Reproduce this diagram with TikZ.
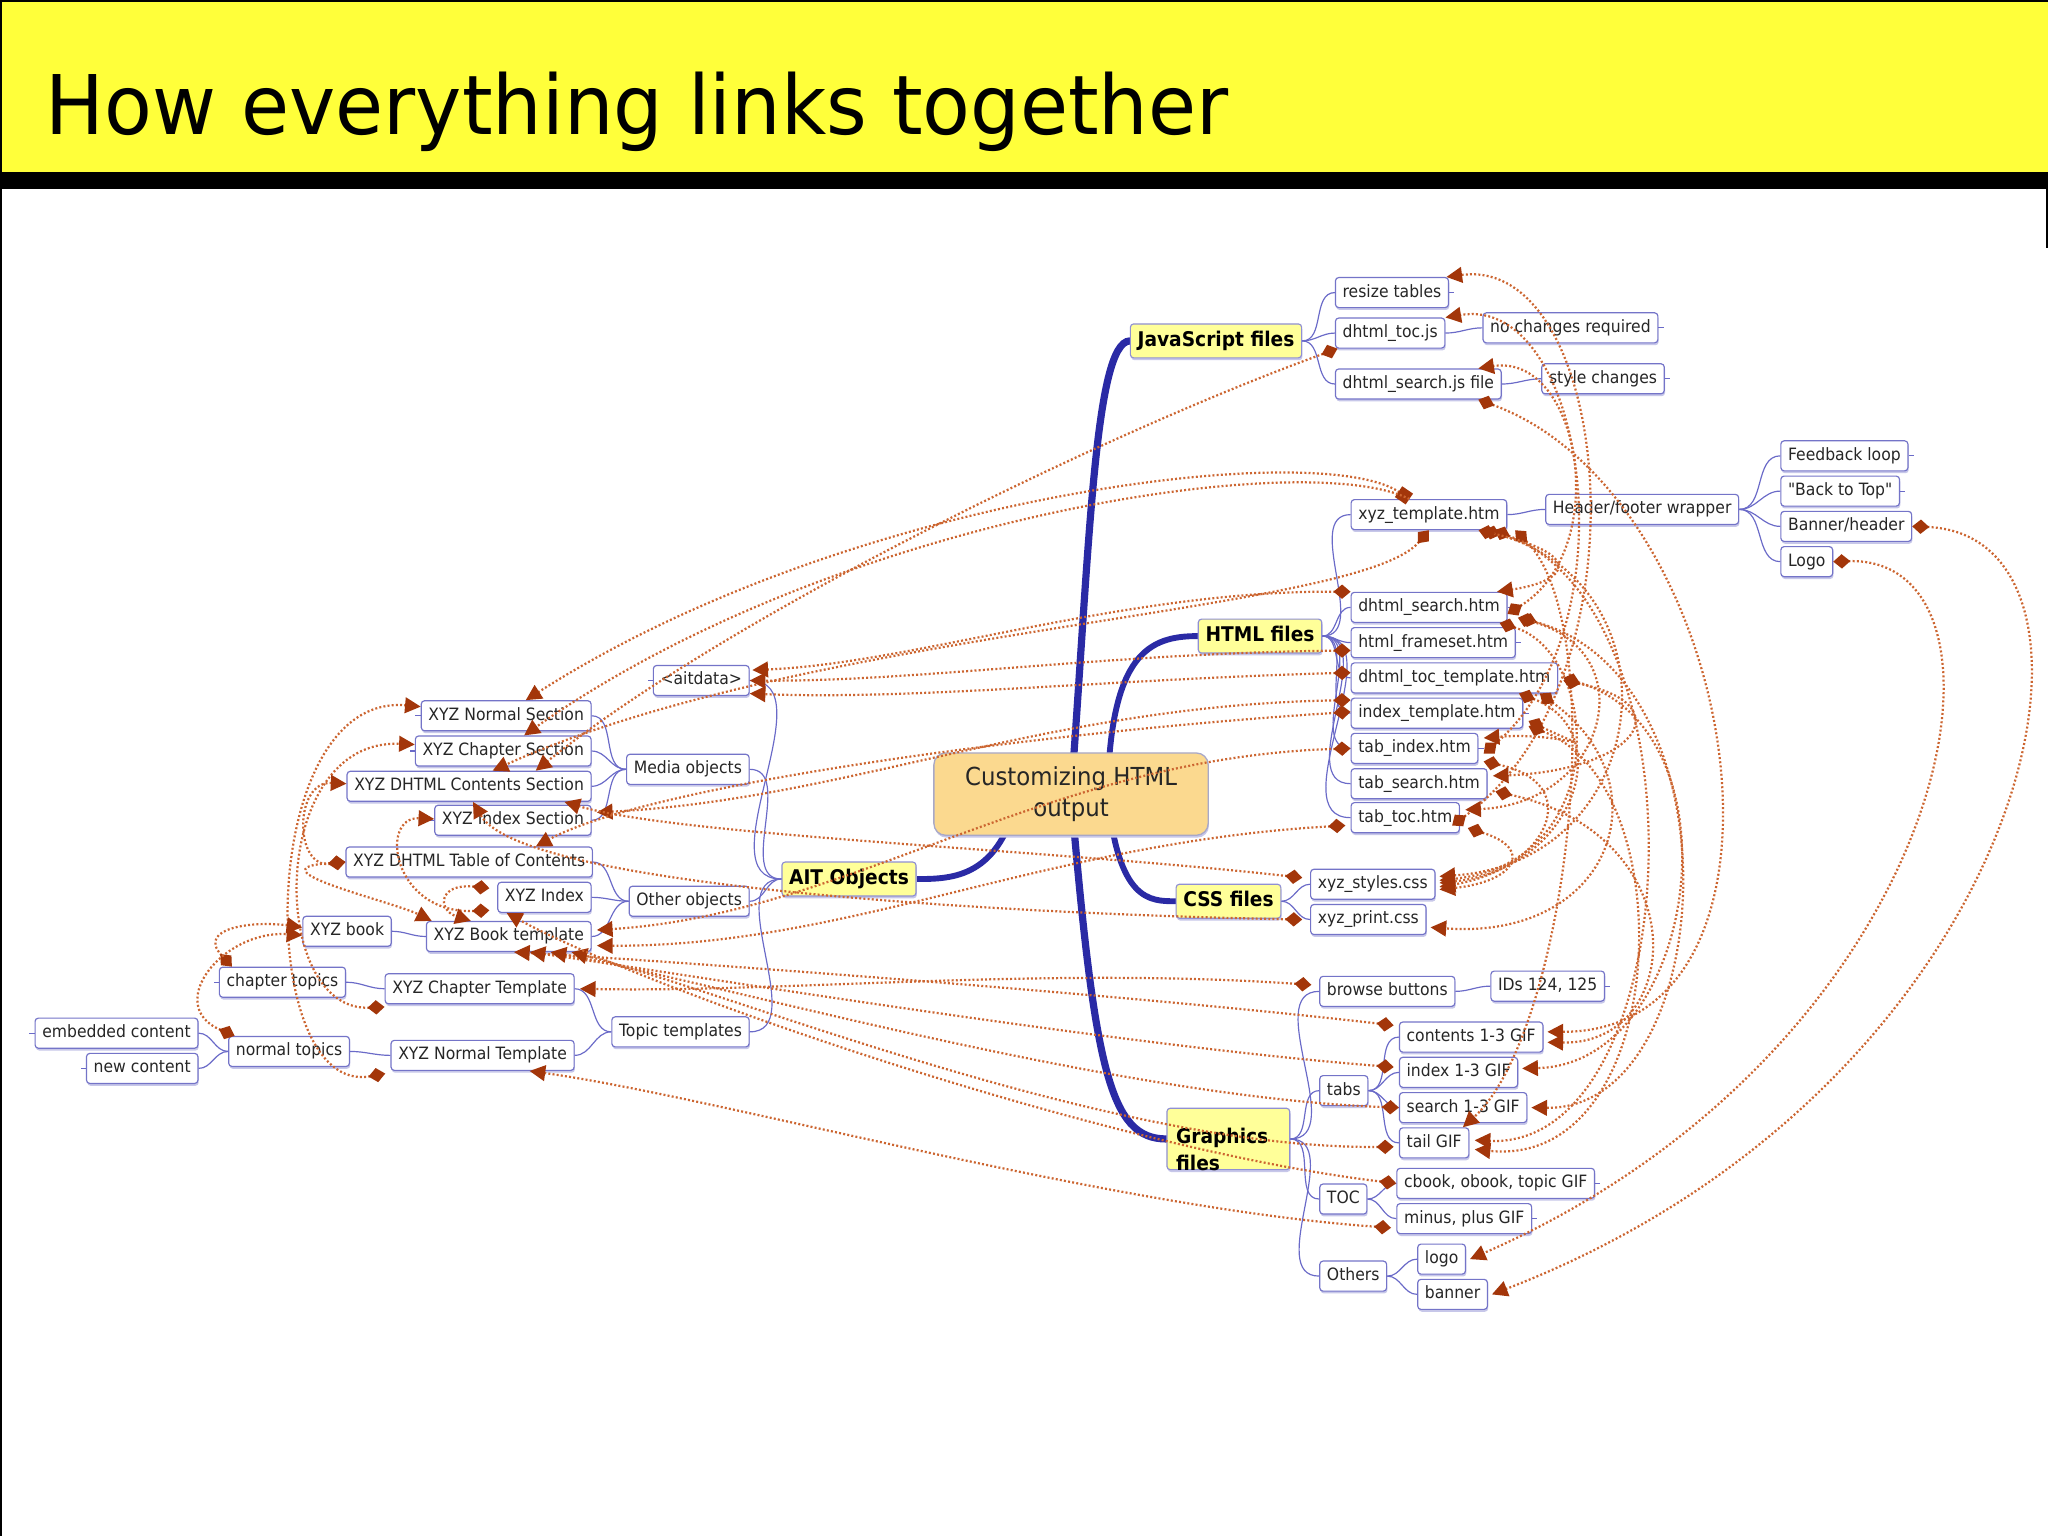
\documentclass[tikz,border=0pt]{standalone}
\usepackage{fontspec}
\setmainfont{DejaVu Sans}
\newfontfamily\nfont[FakeStretch=0.92]{DejaVu Sans}
\newfontfamily\tfont[FakeStretch=0.95]{DejaVu Sans}
\usetikzlibrary{arrows.meta,shadows,backgrounds}
\definecolor{ttlyel}{HTML}{FFFF3A}
\definecolor{leafc}{HTML}{7474C8}
\definecolor{treec}{HTML}{6A6AC8}
\definecolor{thickc}{HTML}{2A2AA5}
\definecolor{brfill}{HTML}{FFFF99}
\definecolor{rootf}{HTML}{FBD98F}
\definecolor{rootd}{HTML}{A8A8C8}
\definecolor{relc}{HTML}{CC6530}
\definecolor{relm}{HTML}{A3360A}
\begin{document}
\begin{tikzpicture}[x=1pt,y=-1pt,
  leaf/.style={draw=leafc, line width=0.9pt, fill=white, rounded corners=2.5pt,
    inner xsep=5.5pt, inner ysep=0pt, minimum height=23pt, text height=10pt, text depth=3.2pt,
    font=\nfont\fontsize{13}{15}\selectfont, text=black!85,
    drop shadow={shadow xshift=0.6pt, shadow yshift=-1.8pt, fill=leafc!40, opacity=1}},
  brbase/.style={leaf, fill=brfill, draw=leafc!80, font=\nfont\bfseries\fontsize{15.5}{21}\selectfont, text=black},
  branch/.style={brbase, minimum height=26pt, text height=11.5pt, text depth=3.5pt},
  tree/.style={draw=treec, line width=0.9pt},
  thick/.style={draw=thickc, line width=4.5pt, line cap=round},
  thicker/.style={draw=thickc, line width=5.5pt, line cap=round},
  rel/.style={draw=relc, line width=1.7pt, dash pattern=on 1.5pt off 1.7pt,
    arrows={Diamond[length=13pt,width=11pt,color=relm]-Triangle[length=12pt,width=12pt,color=relm]}},
  relsq/.style={rel, arrows={Square[length=10pt,width=10pt,color=relm]-Triangle[length=12pt,width=12pt,color=relm]}},
  relend/.style={rel, arrows={-Triangle[length=12pt,width=12pt,color=relm]}}
]
\useasboundingbox (0,0) rectangle (1568,1176);
\begin{scope}[on background layer]
\fill[white] (0,0) rectangle (1568,1176);
\end{scope}
% title band
\fill[ttlyel] (0,0) rectangle (1568,132);
\fill[black] (0,132) rectangle (1568,145);
\draw[black, line width=1.5pt] (0,0.75) -- (1568,0.75);
\draw[black, line width=1.5pt] (0.75,0) -- (0.75,1176);
\draw[black, line width=1.5pt] (1567,145) -- (1567,190);
\node[anchor=base west, inner sep=0pt, font=\tfont\fontsize{63}{70}\selectfont] (title) at (35,103) {How everything links together};

% root and branches
\node[draw=rootd, line width=1pt, rounded corners=9pt, fill=rootf, minimum width=210pt, minimum height=63pt,
  align=center, font=\nfont\fontsize{19}{24}\selectfont, text=black!85,
  drop shadow={shadow xshift=0.6pt, shadow yshift=-1.8pt, fill=leafc!40, opacity=1}] (root) at (820,608) {Customizing HTML\\output};
\node[branch, anchor=west] (js) at (865,261) {JavaScript files};
\node[branch, anchor=west] (html) at (917,487) {HTML files};
\node[branch] (ait) at (650,673) {AIT Objects};
\node[branch, anchor=west] (css) at (900,690) {CSS files};
\node[brbase, anchor=west, align=left, minimum width=94pt, minimum height=47pt, text width=80pt] (gfx) at (893,872) {Graphics\\files};

% JavaScript
\node[leaf, anchor=west] (resize) at (1022,224) {resize tables};
\node[leaf, anchor=west] (tocjs) at (1022,255) {dhtml\_toc.js};
\node[leaf, anchor=west] (searchjs) at (1022,294) {dhtml\_search.js file};
\node[leaf, anchor=west] (nochg) at (1135,251) {no changes required};
\node[leaf, anchor=west] (stylechg) at (1180,290) {style changes};
% HTML
\node[leaf, anchor=west] (xyzt) at (1034,394) {xyz\_template.htm};
\node[leaf, anchor=west] (hfw) at (1183,390) {Header/footer wrapper};
\node[leaf, anchor=west] (fb) at (1363,349) {Feedback loop};
\node[leaf, anchor=west] (btt) at (1363,376) {"Back to Top"};
\node[leaf, anchor=west] (bnh) at (1363,403) {Banner/header};
\node[leaf, anchor=west] (lgo) at (1363,430) {Logo};
\node[leaf, anchor=west] (dsearch) at (1034,465) {dhtml\_search.htm};
\node[leaf, anchor=west] (frameset) at (1034,492) {html\_frameset.htm};
\node[leaf, anchor=west] (toctpl) at (1034,519) {dhtml\_toc\_template.htm};
\node[leaf, anchor=west] (idxtpl) at (1034,546) {index\_template.htm};
\node[leaf, anchor=west] (tabidx) at (1034,573) {tab\_index.htm};
\node[leaf, anchor=west] (tabsrch) at (1034,600) {tab\_search.htm};
\node[leaf, anchor=west] (tabtoc) at (1034,626) {tab\_toc.htm};
% CSS
\node[leaf, anchor=west] (styles) at (1003,677) {xyz\_styles.css};
\node[leaf, anchor=west] (print) at (1003,704) {xyz\_print.css};
% Graphics
\node[leaf, anchor=west] (browse) at (1010,759) {browse buttons};
\node[leaf, anchor=west] (ids) at (1141,755) {IDs 124, 125};
\node[leaf, anchor=west] (tabs) at (1010,835) {tabs};
\node[leaf, anchor=west] (contents) at (1071,794) {contents 1-3 GIF};
\node[leaf, anchor=west] (idxgif) at (1071,821) {index 1-3 GIF};
\node[leaf, anchor=west] (srchgif) at (1071,848) {search 1-3 GIF};
\node[leaf, anchor=west] (tail) at (1071,875) {tail GIF};
\node[leaf, anchor=west] (tocg) at (1010,918) {TOC};
\node[leaf, anchor=west] (cbook) at (1069,906) {cbook, obook, topic GIF};
\node[leaf, anchor=west] (minus) at (1069,933) {minus, plus GIF};
\node[leaf, anchor=west] (others) at (1010,977) {Others};
\node[leaf, anchor=west] (logo) at (1085,964) {logo};
\node[leaf, anchor=west] (banner) at (1085,991) {banner};
% AIT objects
\node[leaf, anchor=east] (aitdata) at (574,521) {<aitdata>};
\node[leaf, anchor=east] (media) at (574,589) {Media objects};
\node[leaf, anchor=east] (other) at (574,690) {Other objects};
\node[leaf, anchor=east] (topic) at (574,790) {Topic templates};
\node[leaf, anchor=east] (nsec) at (453,548) {XYZ Normal Section};
\node[leaf, anchor=east] (csec) at (453,575) {XYZ Chapter Section};
\node[leaf, anchor=east] (dcsec) at (453,602) {XYZ DHTML Contents Section};
\node[leaf, anchor=east] (isec) at (453,628) {XYZ Index Section};
\node[leaf, anchor=east] (dtoc) at (454,660) {XYZ DHTML Table of Contents};
\node[leaf, anchor=east] (xidx) at (453,687) {XYZ Index};
\node[leaf, anchor=east] (btpl) at (453,717) {XYZ Book template};
\node[leaf, anchor=east] (xbook) at (300,713) {XYZ book};
\node[leaf, anchor=east] (ctpl) at (440,757) {XYZ Chapter Template};
\node[leaf, anchor=east] (ntpl) at (440,808) {XYZ Normal Template};
\node[leaf, anchor=east] (ctop) at (265,752) {chapter topics};
\node[leaf, anchor=east] (ntop) at (268,805) {normal topics};
\node[leaf, anchor=east] (emb) at (152,791) {embedded content};
\node[leaf, anchor=east] (newc) at (152,818) {new content};

% thick main branches (behind the root)
\begin{scope}[on background layer]
\draw[thicker] (root.center) .. controls (834,420) and (838,262) .. (js.west);
\draw[thick] ([shift={(28,0)}]root.center) .. controls (850,500) and (880,487) .. (html.west);
\draw[thick] ([shift={(-40,0)}]root.center) .. controls (765,672) and (730,673) .. (ait.east);
\draw[thick] ([shift={(28,0)}]root.center) .. controls (856,690) and (880,690) .. (css.west);
\draw[thicker] (root.center) .. controls (838,820) and (850,872) .. (gfx.west);
\end{scope}

% tree lines
\foreach \c in {resize,tocjs,searchjs} \draw[tree] (js.east) to[out=0,in=180] (\c.west);
\draw[tree] (tocjs.east) to[out=0,in=180] (nochg.west);
\draw[tree] (searchjs.east) to[out=0,in=180] (stylechg.west);
\foreach \c in {xyzt,dsearch,frameset,toctpl,idxtpl,tabidx,tabsrch,tabtoc} \draw[tree] (html.east) to[out=0,in=180] (\c.west);
\draw[tree] (xyzt.east) to[out=0,in=180] (hfw.west);
\foreach \c in {fb,btt,bnh,lgo} \draw[tree] (hfw.east) to[out=0,in=180] (\c.west);
\foreach \c in {styles,print} \draw[tree] (css.east) to[out=0,in=180] (\c.west);
\foreach \c in {browse,tabs,tocg,others} \draw[tree] (gfx.east) to[out=0,in=180] (\c.west);
\draw[tree] (browse.east) to[out=0,in=180] (ids.west);
\foreach \c in {contents,idxgif,srchgif,tail} \draw[tree] (tabs.east) to[out=0,in=180] (\c.west);
\foreach \c in {cbook,minus} \draw[tree] (tocg.east) to[out=0,in=180] (\c.west);
\foreach \c in {logo,banner} \draw[tree] (others.east) to[out=0,in=180] (\c.west);
\foreach \c in {aitdata,media,other,topic} \draw[tree] (ait.west) to[out=180,in=0] (\c.east);
\foreach \c in {nsec,csec,dcsec,isec} \draw[tree] (media.west) to[out=180,in=0] (\c.east);
\foreach \c in {dtoc,xidx,btpl} \draw[tree] (other.west) to[out=180,in=0] (\c.east);
\draw[tree] (btpl.west) to[out=180,in=0] (xbook.east);
\foreach \c in {ctpl,ntpl} \draw[tree] (topic.west) to[out=180,in=0] (\c.east);
\draw[tree] (ctpl.west) to[out=180,in=0] (ctop.east);
\draw[tree] (ntpl.west) to[out=180,in=0] (ntop.east);
\foreach \c in {emb,newc} \draw[tree] (ntop.west) to[out=180,in=0] (\c.east);
% stubs
\foreach \n in {resize,nochg,stylechg,fb,btt,dsearch,frameset,idxtpl,tabidx,ids,cbook,minus} \draw[tree] (\n.east) -- ++(4,0);
\foreach \n in {aitdata,nsec,csec,isec,dtoc,ctop,emb,newc} \draw[tree] (\n.west) -- ++(-4,0);

% ---- relationship links ----
% long upper links
\draw[relsq] ([shift={(-15,0)}]xyzt.north) .. controls (1010,335) and (650,378) .. ([shift={(15,0)}]nsec.north);
\draw[relend] ([shift={(-15,0)}]xyzt.north) .. controls (1000,342) and (640,395) .. ([shift={(16,0)}]csec.north);
\draw[rel] ([shift={(2,0)}]tocjs.south west) .. controls (850,330) and (560,470) .. ([shift={(51,0)}]dcsec.north);
\draw[rel] (xyzt.south) .. controls (1040,470) and (620,480) .. ([shift={(18,0)}]dcsec.north);
% HTML -> left side
\draw[rel] (dsearch.north west) .. controls (860,452) and (700,508) .. ([shift={(2,-8)}]aitdata.east);
\draw[rel] ([shift={(0,6)}]frameset.west) .. controls (850,500) and (700,522) .. (aitdata.east);
\draw[rel] ([shift={(0,-4)}]toctpl.west) .. controls (850,520) and (700,536) .. ([shift={(0,10)}]aitdata.east);
\draw[rel] ([shift={(0,-10)}]idxtpl.west) .. controls (800,540) and (650,612) .. ([shift={(4,-6)}]isec.east);
\draw[rel] ([shift={(0,-1)}]idxtpl.west) .. controls (800,560) and (500,600) .. ([shift={(51,0)}]dtoc.north);
\draw[rel] (tabidx.west) .. controls (800,580) and (650,700) .. ([shift={(4,-5)}]btpl.east);
\draw[rel] ([shift={(-4,6)}]tabtoc.west) .. controls (800,645) and (650,725) .. ([shift={(4,7)}]btpl.east);
% CSS / Graphics -> left side
\draw[rel] ([shift={(-6,-5)}]styles.west) .. controls (800,650) and (520,640) .. ([shift={(73,0)}]dcsec.south);
\draw[rel] ([shift={(-6,0)}]print.west) .. controls (780,700) and (400,680) .. ([shift={(3,0)}]dcsec.south);
\draw[rel] ([shift={(-6,-5)}]browse.west) .. controls (800,740) and (600,760) .. ([shift={(4,0)}]ctpl.east);
\draw[rel] ([shift={(-4,-9)}]contents.west) .. controls (850,760) and (500,735) .. ([shift={(4,0)}]btpl.south);
\draw[rel] ([shift={(-4,-4)}]idxgif.west) .. controls (850,800) and (520,745) .. ([shift={(16,0)}]btpl.south);
\draw[rel] (srchgif.west) .. controls (850,840) and (540,750) .. ([shift={(32,0)}]btpl.south);
\draw[rel] ([shift={(-4,3)}]tail.west) .. controls (850,880) and (560,760) .. ([shift={(48,0)}]btpl.south);
\draw[rel] (cbook.west) .. controls (850,880) and (500,760) .. ([shift={(-29,0)}]xidx.south);
\draw[rel] ([shift={(-4,7)}]minus.west) .. controls (850,925) and (550,840) .. ([shift={(36,0)}]ntpl.south);
% local loops on the left
\draw[rel] ([shift={(-4,2)}]ntpl.south west) .. controls (195,840) and (195,530) .. ([shift={(0,-7)}]nsec.west);
\draw[rel] ([shift={(0,2)}]ctpl.south west) .. controls (205,775) and (205,565) .. ([shift={(0,-5)}]csec.west);
\draw[rel] (dtoc.west) .. controls (225,665) and (225,598) .. ([shift={(0,-2)}]dcsec.west);
\draw[rel] ([shift={(-6,10)}]xidx.west) .. controls (300,700) and (290,625) .. ([shift={(0,-1)}]isec.west);
\draw[rel] ([shift={(-6,-7)}]xidx.west) .. controls (335,676) and (335,697) .. ([shift={(-29,0)}]btpl.north);
\draw[rel] ([shift={(10,0)}]ctop.north west) .. controls (150,710) and (195,705) .. ([shift={(0,-3)}]xbook.west);
\draw[rel] ([shift={(5,0)}]ntop.north west) .. controls (125,770) and (170,712) .. ([shift={(0,3)}]xbook.west);
\draw[rel] (dtoc.west) .. controls (190,665) and (300,690) .. ([shift={(-59,0)}]btpl.north);
% loops on the right
\draw[rel] ([shift={(-6,6)}]tabtoc.east) .. controls (1265,520) and (1235,195) .. ([shift={(-2,0)}]resize.north east);
\draw[rel] ([shift={(4,4)}]tabidx.east) .. controls (1250,480) and (1215,225) .. (tocjs.north east);
\draw[rel] ([shift={(0,5)}]dsearch.east) .. controls (1235,420) and (1210,270) .. ([shift={(-18,0)}]searchjs.north east);
\draw[rel] ([shift={(-18,0)}]searchjs.south east) .. controls (1335,380) and (1395,790) .. ([shift={(3,-4)}]contents.east);
\draw[rel] ([shift={(-18,0)}]xyzt.south east) .. controls (1290,450) and (1265,660) .. ([shift={(3,-6)}]styles.east);
\draw[rel] ([shift={(-10,0)}]xyzt.south east) .. controls (1310,470) and (1290,880) .. ([shift={(4,-2)}]tail.east);
\draw[rel] ([shift={(6,12)}]xyzt.east) .. controls (1235,480) and (1200,790) .. ([shift={(22,0)}]tail.north);
\draw[rel] ([shift={(-6,0)}]dsearch.south east) .. controls (1225,500) and (1235,660) .. ([shift={(3,-3)}]styles.east);
\draw[rel] ([shift={(10,8)}]dsearch.east) .. controls (1335,520) and (1315,850) .. ([shift={(3,0)}]srchgif.east);
\draw[rel] ([shift={(4,0)}]toctpl.east) .. controls (1335,560) and (1300,815) .. ([shift={(3,-3)}]idxgif.east);
\draw[rel] ([shift={(-30,0)}]toctpl.south east) .. controls (1240,560) and (1205,665) .. ([shift={(3,-1)}]styles.east);
\draw[rel] ([shift={(-14,0)}]toctpl.south east) .. controls (1275,600) and (1235,720) .. ([shift={(3,6)}]print.east);
\draw[rel] ([shift={(4,10)}]idxtpl.east) .. controls (1290,600) and (1280,895) .. ([shift={(4,5)}]tail.east);
\draw[rel] ([shift={(4,10)}]tabidx.east) .. controls (1215,600) and (1185,665) .. ([shift={(3,2)}]styles.east);
\draw[rel] ([shift={(6,6)}]tabsrch.east) .. controls (1300,640) and (1290,800) .. ([shift={(3,4)}]contents.east);
\draw[rel] ([shift={(6,8)}]tabtoc.east) .. controls (1175,650) and (1160,675) .. ([shift={(3,4)}]styles.east);
\draw[rel] ([shift={(-22,0)}]xyzt.south east) .. controls (1215,425) and (1200,445) .. ([shift={(-8,0)}]dsearch.north east);
\draw[rel] ([shift={(4,6)}]idxtpl.east) .. controls (1230,580) and (1200,560) .. ([shift={(4,-8)}]tabidx.east);
\draw[rel] ([shift={(4,2)}]toctpl.east) .. controls (1290,540) and (1250,590) .. ([shift={(4,-6)}]tabsrch.east);
\draw[rel] ([shift={(8,-4)}]dsearch.south east) .. controls (1260,500) and (1230,615) .. ([shift={(4,-6)}]tabtoc.east);
% logo and banner
\draw[rel] (bnh.east) .. controls (1640,410) and (1560,830) .. ([shift={(3,0)}]banner.east);
\draw[rel] (lgo.east) .. controls (1560,425) and (1500,800) .. ([shift={(3,0)}]logo.east);
\end{tikzpicture}
\end{document}
